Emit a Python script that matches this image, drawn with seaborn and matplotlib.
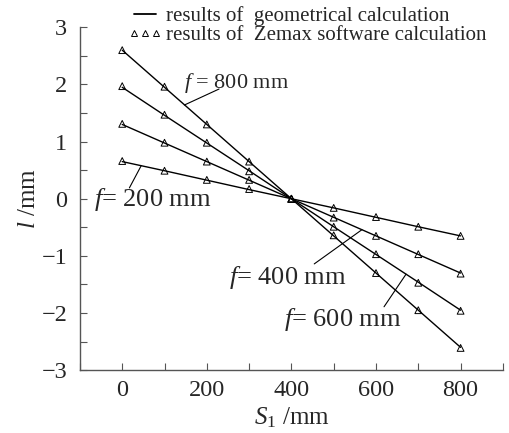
import numpy as np
import pandas as pd
import matplotlib
matplotlib.use("Agg")
import matplotlib.pyplot as plt
from matplotlib.lines import Line2D
import seaborn as sns

# S1 positions (mm)
s1 = [0, 100, 200, 300, 400, 500, 600, 700, 800]
focal = ["200", "400", "600", "800"]

# geometrical calculation l (mm)
geo_200 = [0.65, 0.49, 0.325, 0.16, 0.0, -0.16, -0.325, -0.49, -0.65]
geo_400 = [1.30, 0.975, 0.65, 0.325, 0.0, -0.325, -0.65, -0.975, -1.30]
geo_600 = [1.95, 1.46, 0.975, 0.49, 0.0, -0.49, -0.975, -1.46, -1.95]
geo_800 = [2.60, 1.95, 1.30, 0.65, 0.0, -0.65, -1.30, -1.95, -2.60]

# Zemax software results l (mm)
zmx_200 = [0.66, 0.49, 0.33, 0.17, 0.0, -0.16, -0.32, -0.49, -0.65]
zmx_400 = [1.31, 0.98, 0.65, 0.33, 0.0, -0.33, -0.65, -0.97, -1.31]
zmx_600 = [1.97, 1.47, 0.98, 0.48, 0.0, -0.49, -0.97, -1.47, -1.96]
zmx_800 = [2.60, 1.96, 1.30, 0.65, 0.0, -0.64, -1.30, -1.95, -2.61]

geo = pd.DataFrame({"S1": s1 * 4, "l": geo_200 + geo_400 + geo_600 + geo_800,
                    "f": np.repeat(focal, len(s1))})
zmx = pd.DataFrame({"S1": s1 * 4, "l": zmx_200 + zmx_400 + zmx_600 + zmx_800,
                    "f": np.repeat(focal, len(s1))})

sns.set_style("ticks")
plt.rcParams["font.family"] = ["Liberation Serif", "DejaVu Serif"]
plt.rcParams["mathtext.fontset"] = "custom"
plt.rcParams["mathtext.it"] = "Liberation Serif:italic"
plt.rcParams["mathtext.rm"] = "Liberation Serif"

fig = plt.figure(figsize=(5.09, 4.33), dpi=100)
ax = fig.add_axes([0.157, 0.145, 0.831, 0.792])

sns.lineplot(data=geo, x="S1", y="l", units="f", estimator=None, color="black",
             linewidth=1.0, ax=ax, legend=False)
sns.scatterplot(data=zmx, x="S1", y="l", marker="^", s=24, facecolor="none",
                edgecolor="black", linewidth=0.7, ax=ax, legend=False)

ax.set_xlim(-100, 900)
ax.set_ylim(-3, 3)
ax.set_xticks([0, 200, 400, 600, 800])
ax.set_xticks(np.arange(-100, 901, 100), minor=True)
ax.set_yticks([-3, -2, -1, 0, 1, 2, 3])
ax.set_yticks(np.arange(-3, 3.01, 0.5), minor=True)
ax.tick_params(which="both", direction="in", labelsize=17.5, width=0.8, color="#555555",
               length=5)
ax.tick_params(axis="x", pad=7)
ax.tick_params(axis="y", pad=9)
ax.set_yticklabels(["\u22123", "\u22122", "\u22121", "0", "1", "2", "3"])
sns.despine(ax=ax)
for sp in ["left", "bottom"]:
    ax.spines[sp].set_color("#555555")
    ax.spines[sp].set_linewidth(1.0)

ax.set_xlabel(r"$S_{1}$ /mm", fontsize=18, labelpad=3)
ax.set_ylabel(r"$l$ /mm", fontsize=18, labelpad=1)

# curve labels with leader lines
labels = [
    (r"$f$ = 800 mm", 147, 1.94, 16, (147, 229), (1.64, 1.92)),
    (r"$f$= 200 mm", -66, -0.12, 19, (45, 17), (0.58, 0.19)),
    (r"$f$= 400 mm", 253, -1.49, 19, (567, 454), (-0.54, -1.14)),
    (r"$f$= 600 mm", 383, -2.22, 19, (671, 619), (-1.32, -1.89)),
]
for txt, tx, ty, size, lx, ly in labels:
    ax.text(tx, ty, txt, fontsize=size, ha="left", va="baseline")
    ax.plot(lx, ly, color="black", lw=0.8)

# legend at the top
handles = [Line2D([], [], color="black", lw=1.3),
           Line2D([], [], ls="none", marker="^", markersize=4.5, markerfacecolor="none",
                  markeredgecolor="black", markeredgewidth=0.7)]
fig.legend(handles, ["results of  geometrical calculation",
                     "results of  Zemax software calculation"],
           loc="upper left", bbox_to_anchor=(0.25, 0.985), frameon=False, fontsize=15,
           handlelength=1.7, handletextpad=0.15, labelspacing=-0.05, numpoints=3,
           borderaxespad=0, borderpad=0)

fig.savefig("out.png", dpi=100)
